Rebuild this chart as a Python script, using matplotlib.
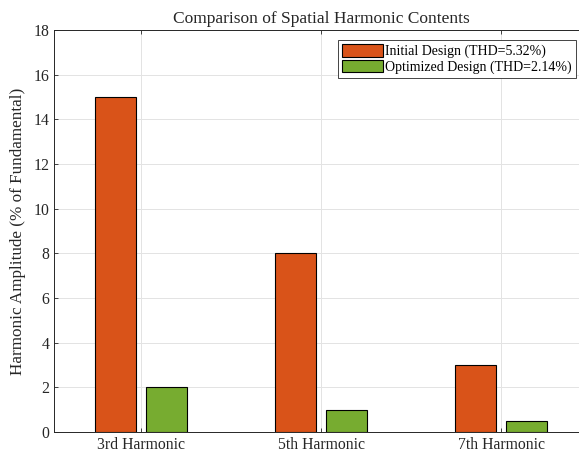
import matplotlib.pyplot as plt
import numpy as np

harmonics = ['3rd Harmonic', '5th Harmonic', '7th Harmonic']
initial = [15, 8, 3]
optimized = [2, 1, 0.5]
labels = ['Initial Design (THD=5.32%)', 'Optimized Design (THD=2.14%)']

plt.rcParams['font.family'] = ['Liberation Serif', 'DejaVu Serif']

fig = plt.figure(figsize=(5.79, 4.54), dpi=100)
ax = fig.add_axes([0.0933, 0.0485, 0.9223, 0.8855])

x = np.arange(1, len(harmonics) + 1)
w = 0.228
ax.bar(x - 0.142, initial, w, color='#D95319', edgecolor='black', lw=0.8, label=labels[0], zorder=3)
ax.bar(x + 0.142, optimized, w, color='#77AC30', edgecolor='black', lw=0.8, label=labels[1], zorder=3)

ax.set_xlim(0.517, 3.483)
ax.set_ylim(0, 18)
ax.set_xticks(x)
ax.set_xticklabels(harmonics)
ax.set_yticks(np.arange(0, 19, 2))
ax.tick_params(direction='in', top=True, right=False, labelsize=11.3, colors='#262626',
               length=3, width=0.6, labelcolor='#262626')
ax.grid(True, color='#e3e3e3', lw=0.7, zorder=0)
for s in ax.spines.values():
    s.set_color('#262626')
    s.set_linewidth(0.7)
# the axes run past the right edge of the picture, so no right spine shows
ax.spines['right'].set_visible(False)

ax.set_ylabel('Harmonic Amplitude (% of Fundamental)', fontsize=12.3, color='#262626', labelpad=5)
ax.set_title('Comparison of Spatial Harmonic Contents', fontsize=12.5, color='#262626', pad=5)

leg = ax.legend(loc='upper left', bbox_to_anchor=(0.532, 0.975), fontsize=10, fancybox=False,
                handlelength=2.9, handleheight=1.0, handletextpad=0.2, borderpad=0.3,
                labelspacing=0.1, borderaxespad=0, framealpha=1)
leg.get_frame().set_edgecolor('#262626')
leg.get_frame().set_linewidth(0.6)

fig.savefig('out.png', dpi=100)
